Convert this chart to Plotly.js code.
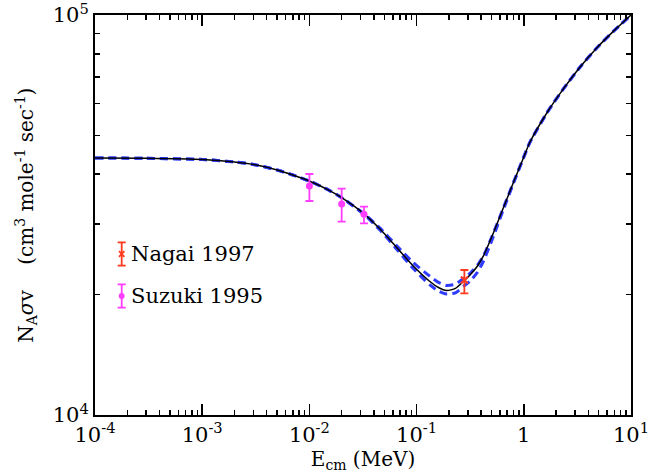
<!DOCTYPE html>
<html>
<head>
<meta charset="utf-8">
<script src="https://cdn.plot.ly/plotly-3.0.1.min.js"></script>
<style>
  html, body { margin: 0; padding: 0; background: #fff; }
  #chart { width: 668px; height: 476px; }
</style>
</head>
<body>
<div id="chart"></div>
<script>
// Centre-of-mass energy grid (MeV) for the reaction-rate curves
const energy = [1e-4, 3e-4, 1e-3, 2e-3, 3e-3, 5e-3, 7e-3, 0.01, 0.0156, 0.02, 0.0323,
  0.0456, 0.0652, 0.0931, 0.133, 0.16, 0.19, 0.23, 0.279, 0.315, 0.37, 0.42, 0.52,
  0.644, 0.8, 1.0, 1.14, 1.64, 2.34, 3.34, 4.79, 6.84, 10];

// Recommended rate N_A<sigma v> (cm^3 mole^-1 sec^-1)
const rateBest = [43900, 43830, 43530, 42910, 42300, 40980, 39810, 38460, 36340, 34940,
  31840, 29170, 26230, 23580, 21570, 20830, 20470, 20720, 21690, 22390, 23580, 24980,
  28510, 32920, 38130, 44160, 48060, 56890, 65340, 74040, 82700, 90990, 100000];

// Upper and lower limits of the rate
const rateHigh = [43900, 43830, 43530, 42910, 42300, 40980, 39810, 38460, 36340, 34940,
  31840, 29320, 26490, 24050, 22220, 21450, 21080, 21240, 22020, 22610, 23700, 24980,
  28510, 32920, 38130, 44160, 48060, 56890, 65340, 74040, 82700, 90990, 100000];
const rateLow = [43900, 43830, 43530, 42910, 42300, 40980, 39810, 38460, 36340, 34940,
  31740, 29000, 25970, 23230, 21140, 20410, 20060, 20200, 21040, 21610, 22750, 24230,
  27940, 32590, 37940, 44160, 48060, 56890, 65340, 74040, 82700, 90990, 100000];

// Suzuki 1995 measurements
const suzukiE = [0.01, 0.02, 0.0323];
const suzukiRate = [37350, 33700, 31760];
const suzukiErrPlus = [2690, 3090, 1410];
const suzukiErrMinus = [3070, 3270, 1620];

// Nagai 1997 measurement
const nagaiE = [0.279];
const nagaiRate = [21760];
const nagaiErrPlus = [1280];
const nagaiErrMinus = [1610];

// Axis tick positions and labels
const xTickVals = [1e-4, 1e-3, 1e-2, 1e-1, 1, 10];
const xTickText = ['10<sup>-4</sup>', '10<sup>-3</sup>', '10<sup>-2</sup>', '10<sup>-1</sup>', '1', '10<sup>1</sup>'];
const yTickVals = [1e4, 1e5];
const yTickText = ['10<sup>4</sup>', '10<sup>5</sup>'];

// Legend entries
const legendNames = ['Nagai 1997', 'Suzuki 1995'];
const legendColors = ['#ff3b1f', '#ff3dff'];

const FONT = 'DejaVu Serif, Liberation Serif, serif';
const BLUE = '#2f3bff';

const traces = [
  {
    x: energy, y: rateHigh, type: 'scatter', mode: 'lines',
    line: { color: BLUE, width: 3, dash: '8px,5px', shape: 'spline', smoothing: 0.6 },
    hoverinfo: 'skip'
  },
  {
    x: energy, y: rateLow, type: 'scatter', mode: 'lines',
    line: { color: BLUE, width: 3, dash: '8px,5px', shape: 'spline', smoothing: 0.6 },
    hoverinfo: 'skip'
  },
  {
    x: energy, y: rateBest, type: 'scatter', mode: 'lines',
    line: { color: '#000', width: 1.5, shape: 'spline', smoothing: 0.6 },
    hoverinfo: 'skip'
  },
  {
    x: suzukiE, y: suzukiRate, type: 'scatter', mode: 'markers',
    marker: { color: legendColors[1], size: 7, symbol: 'circle' },
    error_y: { type: 'data', symmetric: false, array: suzukiErrPlus, arrayminus: suzukiErrMinus,
      color: legendColors[1], thickness: 1.8, width: 4 }
  },
  {
    x: nagaiE, y: nagaiRate, type: 'scatter', mode: 'markers',
    marker: { color: legendColors[0], size: 7, symbol: 'x-thin-open', line: { color: legendColors[0], width: 2 } },
    error_y: { type: 'data', symmetric: false, array: nagaiErrPlus, arrayminus: nagaiErrMinus,
      color: legendColors[0], thickness: 1.8, width: 4 }
  }
];

// Hand-drawn legend: error-bar glyphs (paper coordinates) plus text labels
const legX = 0.0498;
const legY = [0.4025, 0.2975];
const barHalf = 0.029;
const capHalf = 0.0075;
const shapes = [];
const annotations = [];
legendNames.forEach((name, i) => {
  const c = legendColors[i];
  const y = legY[i];
  shapes.push({ type: 'line', xref: 'paper', yref: 'paper', x0: legX, x1: legX, y0: y - barHalf, y1: y + barHalf, line: { color: c, width: 1.8 } });
  shapes.push({ type: 'line', xref: 'paper', yref: 'paper', x0: legX - capHalf, x1: legX + capHalf, y0: y - barHalf, y1: y - barHalf, line: { color: c, width: 1.8 } });
  shapes.push({ type: 'line', xref: 'paper', yref: 'paper', x0: legX - capHalf, x1: legX + capHalf, y0: y + barHalf, y1: y + barHalf, line: { color: c, width: 1.8 } });
  if (i === 0) {
    shapes.push({ type: 'line', xref: 'paper', yref: 'paper', x0: legX - 0.005, x1: legX + 0.005, y0: y - 0.007, y1: y + 0.007, line: { color: c, width: 1.8 } });
    shapes.push({ type: 'line', xref: 'paper', yref: 'paper', x0: legX - 0.005, x1: legX + 0.005, y0: y + 0.007, y1: y - 0.007, line: { color: c, width: 1.8 } });
  } else {
    shapes.push({ type: 'circle', xref: 'paper', yref: 'paper', x0: legX - 0.0055, x1: legX + 0.0055, y0: y - 0.0075, y1: y + 0.0075, fillcolor: c, line: { color: c, width: 0 } });
  }
  annotations.push({ xref: 'paper', yref: 'paper', x: 0.064, y: y, xanchor: 'left', yanchor: 'middle',
    text: name, showarrow: false, font: { family: FONT, size: 21, color: '#000' } });
});

// Rotated y-axis title, placed in the left margin
annotations.push({
  xref: 'paper', yref: 'paper', x: -0.129, y: 0.5, xanchor: 'center', yanchor: 'middle',
  textangle: -90, showarrow: false,
  text: 'N<sub>A</sub><i>σ</i>v    (cm<sup>3</sup> mole<sup>-1</sup> sec<sup>-1</sup>)',
  font: { family: FONT, size: 20, color: '#000' }
});

const axisCommon = {
  type: 'log',
  showgrid: false,
  zeroline: false,
  showline: true,
  linecolor: '#000',
  linewidth: 2,
  mirror: 'allticks',
  ticks: 'inside',
  tickcolor: '#000',
  tickwidth: 1.5,
  tickmode: 'array',
  ticklabeloverflow: 'allow',
  tickfont: { family: FONT, size: 21, color: '#000' },
  minor: { ticks: 'inside', ticklen: 5, tickcolor: '#000', tickwidth: 1.5, dtick: 'D1', showgrid: false }
};

const layout = {
  width: 668, height: 476,
  margin: { l: 95, r: 37, t: 15, b: 61 },
  paper_bgcolor: '#fff', plot_bgcolor: '#fff',
  showlegend: false,
  xaxis: Object.assign({}, axisCommon, {
    range: [-4, 1],
    tickvals: xTickVals, ticktext: xTickText,
    ticklen: 11,
    title: { text: 'E<sub>cm</sub> (MeV)', font: { family: FONT, size: 20, color: '#000' }, standoff: 6 }
  }),
  yaxis: Object.assign({}, axisCommon, {
    range: [4, 5],
    tickvals: yTickVals, ticktext: yTickText,
    ticklen: 11
  }),
  shapes: shapes,
  annotations: annotations
};

Plotly.newPlot('chart', traces, layout, { displayModeBar: false, staticPlot: true });
</script>
</body>
</html>
